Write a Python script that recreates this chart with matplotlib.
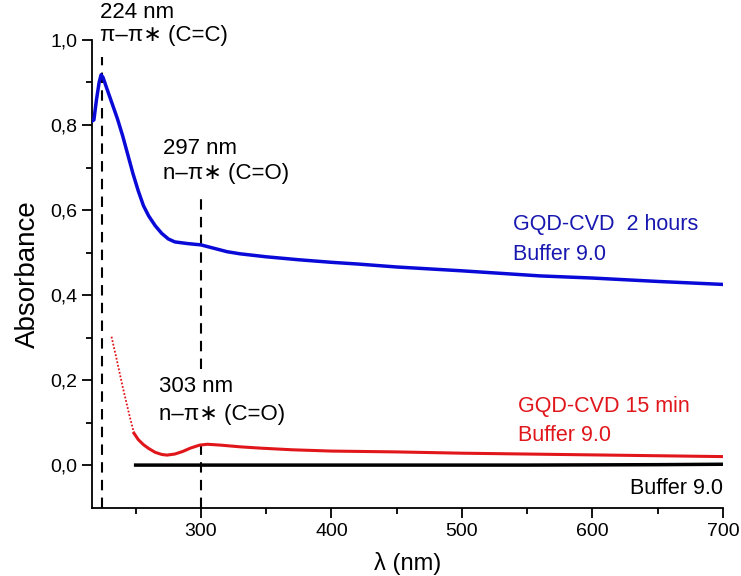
import matplotlib
matplotlib.use("Agg")
import matplotlib.pyplot as plt
from matplotlib.ticker import FixedLocator, FuncFormatter

plt.rcParams['font.family'] = ['Liberation Sans', 'DejaVu Sans']

# ---- data ----
blue_wl = [217, 218, 220, 222, 223.5, 225, 228, 232, 236, 240, 244, 248, 252, 256, 260,
           265, 270, 275, 280, 290, 300, 310, 320, 330, 350, 375, 400, 420, 450, 500,
           530, 560, 600, 650, 700]
blue_abs = [0.81, 0.812, 0.86, 0.90, 0.918, 0.912, 0.885, 0.85, 0.815, 0.775, 0.73, 0.685,
            0.645, 0.61, 0.586, 0.563, 0.545, 0.532, 0.525, 0.521, 0.518, 0.51, 0.502,
            0.497, 0.49, 0.483, 0.477, 0.473, 0.466, 0.457, 0.451, 0.445, 0.44, 0.432, 0.425]

red_dot_wl = [231.5, 235, 240, 245, 248.7]
red_dot_abs = [0.302, 0.255, 0.185, 0.12, 0.075]

red_wl = [248.7, 252, 256, 260, 265, 270, 274, 280, 286, 292, 299, 305, 315, 330, 345,
          370, 400, 450, 500, 550, 600, 650, 700]
red_abs = [0.075, 0.06, 0.048, 0.039, 0.03, 0.025, 0.0235, 0.026, 0.032, 0.04, 0.047,
           0.049, 0.047, 0.043, 0.04, 0.036, 0.033, 0.031, 0.028, 0.026, 0.024, 0.022, 0.02]

black_wl = [250, 400, 550, 650, 700]
black_abs = [0.0, 0.0, 0.0, 0.001, 0.002]

peak_wl = [224, 300]

fig = plt.figure(figsize=(7.41, 5.76), dpi=100)
ax = fig.add_axes([0.1246, 0.118, 0.851, 0.8126])

blue_c = '#0a0ad8'
red_c = '#e0161b'

ax.plot(blue_wl, blue_abs, color=blue_c, lw=2.5, zorder=3)
ax.plot(red_dot_wl, red_dot_abs, color=red_c, lw=1.3, ls=(0, (1, 1)), zorder=3)
ax.plot(red_wl, red_abs, color=red_c, lw=2.2, zorder=3)
ax.plot(black_wl, black_abs, color='black', lw=2.5, zorder=3)

# dashed marker lines
dash = (0, (5, 3.5))
ax.plot([peak_wl[0], peak_wl[0]], [-0.1, 0.96], color='black', lw=1.5, ls=dash, zorder=2)
ax.plot([peak_wl[1], peak_wl[1]], [0.225, 0.64], color='black', lw=1.5, ls=dash, zorder=2)
ax.plot([peak_wl[1], peak_wl[1]], [-0.1, 0.06], color='black', lw=1.5, ls=dash, zorder=2)

ax.set_xlim(216.8, 700)
ax.set_ylim(-0.101, 1.0)

for s in ['top', 'right']:
    ax.spines[s].set_visible(False)
for s in ['left', 'bottom']:
    ax.spines[s].set_linewidth(1.3)

ax.xaxis.set_major_locator(FixedLocator([300, 400, 500, 600, 700]))
ax.xaxis.set_minor_locator(FixedLocator([250, 350, 450, 550, 650]))
ax.yaxis.set_major_locator(FixedLocator([0.0, 0.2, 0.4, 0.6, 0.8, 1.0]))
ax.yaxis.set_minor_locator(FixedLocator([0.1, 0.3, 0.5, 0.7, 0.9]))
ax.yaxis.set_major_formatter(FuncFormatter(lambda v, p: f"{v:.1f}".replace('.', ',')))
ax.tick_params(which='major', direction='out', length=7, width=1.3, labelsize=14)
ax.tick_params(which='minor', direction='out', length=4, width=1.3)

ax.set_xlabel('λ (nm)', fontsize=17, labelpad=9)
ax.set_ylabel('Absorbance', fontsize=20, labelpad=7)

tk = dict(fontsize=16, color='black', ha='left', va='center')
ax.text(222.5, 1.065, '224 nm', clip_on=False, **tk)
ax.text(222.5, 1.01, 'π–π∗ (C=C)', clip_on=False, **tk)
ax.text(271, 0.745, '297 nm', **tk)
ax.text(271, 0.687, 'n–π∗ (C=O)', **tk)
ax.text(268, 0.184, '303 nm', **tk)
ax.text(268, 0.118, 'n–π∗ (C=O)', **tk)

ax.text(539, 0.565, 'GQD-CVD  2 hours', fontsize=15.5, color='#1818b0', ha='left', va='center')
ax.text(539, 0.496, 'Buffer 9.0', fontsize=15.5, color='#1818b0', ha='left', va='center')
ax.text(543, 0.137, 'GQD-CVD 15 min', fontsize=15.5, color=red_c, ha='left', va='center')
ax.text(543, 0.07, 'Buffer 9.0', fontsize=15.5, color=red_c, ha='left', va='center')
ax.text(700, -0.054, 'Buffer 9.0', fontsize=15.5, color='black', ha='right', va='center')

fig.savefig('out.png', dpi=100)
